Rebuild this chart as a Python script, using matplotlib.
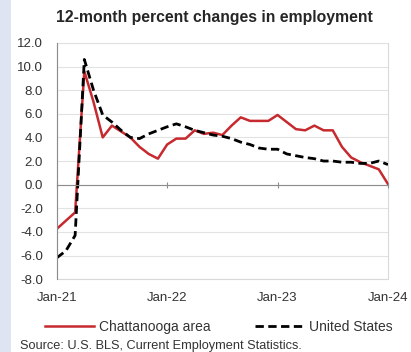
import matplotlib
matplotlib.use("Agg")
import matplotlib.pyplot as plt
from matplotlib.patches import Rectangle

# monthly values, Jan-21 .. Jan-24
chattanooga = [-3.75, -3.05, -2.35, 9.6, 7.0, 4.0, 5.0, 4.5, 4.0, 3.2, 2.6, 2.2,
               3.4, 3.9, 3.9, 4.6, 4.3, 4.4, 4.2, 5.0, 5.7, 5.4, 5.4, 5.4,
               5.9, 5.3, 4.7, 4.6, 5.0, 4.6, 4.6, 3.2, 2.3, 1.9, 1.6, 1.3,
               0.05]
united_states = [-6.2, -5.6, -4.3, 10.6, 8.0, 5.9, 5.3, 4.6, 4.0, 3.9, 4.3, 4.6,
                 4.9, 5.15, 4.9, 4.6, 4.4, 4.2, 4.1, 3.9, 3.6, 3.4, 3.1, 3.0,
                 3.0, 2.6, 2.45, 2.3, 2.2, 2.0, 2.0, 1.9, 1.9, 1.8, 1.8, 2.0,
                 1.7]
months = list(range(len(chattanooga)))
xtick_pos = [0, 12, 24, 36]
xtick_labels = ['Jan-21', 'Jan-22', 'Jan-23', 'Jan-24']
yticks = list(range(-8, 13, 2))

plt.rcParams['font.family'] = ['Liberation Sans', 'DejaVu Sans']
txt = '#333333'

fig = plt.figure(figsize=(4.11, 3.52), dpi=100)
fig.patches.append(Rectangle((0, 0), 11 / 411, 1, transform=fig.transFigure,
                             facecolor='#dfe4f3', edgecolor='none'))

ax = fig.add_axes([0.138, 0.207, 0.806, 0.671])
ax.plot(months, chattanooga, color='#c62a2f', lw=1.8, label='Chattanooga area')
ax.plot(months, united_states, color='black', lw=2.0, dashes=(3, 1.6),
        label='United States')

ax.set_xlim(0, 36)
ax.set_ylim(-8, 12)
ax.set_yticks(yticks)
ax.set_yticklabels([f'{v:.1f}' for v in yticks])
ax.yaxis.grid(True, color='#e2e2e2', lw=0.8)
ax.set_axisbelow(True)
ax.tick_params(axis='y', length=0, labelsize=9.5, labelcolor=txt, pad=10)

ax.patch.set_edgecolor('#d9d9d9')
ax.patch.set_linewidth(0.8)
for s in ['top', 'right']:
    ax.spines[s].set_visible(False)
ax.spines['left'].set_color('#8c8c8c')
ax.spines['bottom'].set_color('#8c8c8c')
ax.spines['bottom'].set_position(('data', 0))

ax.set_xticks(xtick_pos)
ax.tick_params(axis='x', direction='inout', length=5, color='#8c8c8c',
               labelbottom=False)
sec = ax.secondary_xaxis('bottom')
sec.set_xticks(xtick_pos)
sec.set_xticklabels(xtick_labels)
sec.tick_params(length=0, labelsize=9.5, labelcolor=txt, pad=9)
sec.spines['bottom'].set_visible(False)

fig.text(0.522, 0.949, '12-month percent changes in employment',
         ha='center', va='center', fontsize=11.3, fontweight='bold', color='#262626')

fig.legend(loc='center', bbox_to_anchor=(0.533, 0.071), ncol=2, frameon=False,
           fontsize=10, handlelength=3.5, columnspacing=3.2, handletextpad=0.4,
           labelcolor=txt)

fig.text(0.049, 0.017, 'Source: U.S. BLS, Current Employment Statistics.',
         ha='left', va='center', fontsize=9.2, color=txt)

fig.savefig('out.png', dpi=100)
